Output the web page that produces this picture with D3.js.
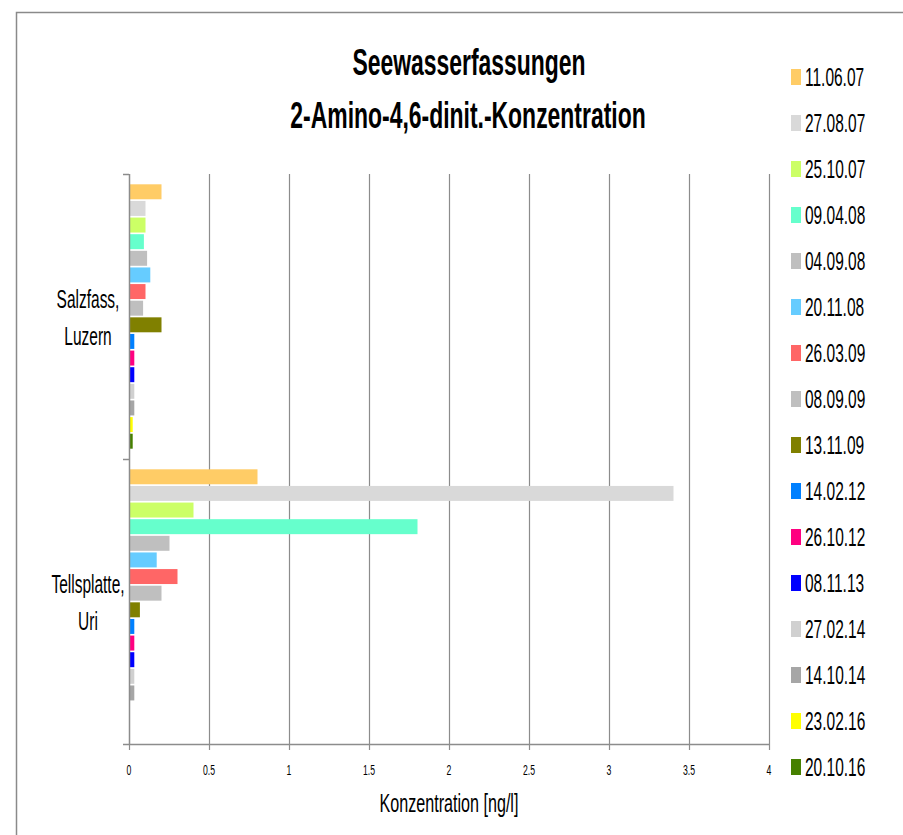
<!DOCTYPE html>
<html>
<head>
<meta charset="utf-8">
<script src="https://cdn.jsdelivr.net/npm/d3@7"></script>
<style>
  body { margin: 0; background: #fff; }
  text { font-family: "Liberation Sans", Arial, sans-serif; fill: #000; }
</style>
</head>
<body>
<div id="chart"></div>
<script>
// chart values
var categories = ["Salzfass,|Luzern", "Tellsplatte,|Uri"];
var seriesNames = ["11.06.07", "27.08.07", "25.10.07", "09.04.08", "04.09.08", "20.11.08",
    "26.03.09", "08.09.09", "13.11.09", "14.02.12", "26.10.12", "08.11.13",
    "27.02.14", "14.10.14", "23.02.16", "20.10.16"];
var seriesColors = ["#ffcc66", "#d9d9d9", "#ccff66", "#66ffcc", "#bfbfbf", "#66ccff",
    "#ff6666", "#bfbfbf", "#808000", "#0080ff", "#ff0080", "#0000ff",
    "#d0d0d0", "#a6a6a6", "#ffff00", "#468000"];
var salzfassValues = [0.20, 0.10, 0.10, 0.09, 0.11, 0.13, 0.10, 0.085, 0.20, 0.03, 0.03, 0.03, 0.03, 0.03, 0.02, 0.02];
var tellsplatteValues = [0.80, 3.40, 0.40, 1.80, 0.25, 0.17, 0.30, 0.20, 0.065, 0.03, 0.03, 0.03, 0.03, 0.03, null, null];
var xTicks = [0, 0.5, 1, 1.5, 2, 2.5, 3, 3.5, 4];

var width = 903, height = 835;
var plot = {left: 129, right: 769, top: 174, bottom: 744};
var squeeze = 0.62; // the picture is narrow, text is squeezed sideways

var svg = d3.select("#chart")
    .append("svg")
    .attr("width", width)
    .attr("height", height);

// outer frame
svg.append("path")
    .attr("d", "M16.5," + height + " V12.5 H" + width)
    .style("fill", "none")
    .style("stroke", "#8a8a8a")
    .style("stroke-width", 1.5);

function label(x, y, str, size, anchor, bold, sx) {
    svg.append("g")
        .attr("transform", "translate(" + x + "," + y + ")")
        .append("text")
        .attr("transform", "scale(" + (sx || squeeze) + ",1)")
        .attr("text-anchor", anchor)
        .style("font-size", size + "px")
        .style("font-weight", bold ? "bold" : "normal")
        .text(str);
}

// title
label(469, 75, "Seewasserfassungen", 37, "middle", true);
label(468, 128, "2-Amino-4,6-dinit.-Konzentration", 37, "middle", true);

var x = d3.scaleLinear()
    .domain([0, 4])
    .range([plot.left, plot.right]);

var y0 = d3.scaleBand()
    .domain(categories)
    .range([plot.top, plot.bottom]);

var y1 = d3.scaleBand()
    .domain(seriesNames)
    .range([0, y0.bandwidth()])
    .paddingInner(0.1)
    .paddingOuter(0.62);

// gridlines
svg.append("g")
    .selectAll("line")
    .data(xTicks.slice(1))
    .enter()
    .append("line")
    .attr("x1", function(d) { return Math.round(x(d)) + 0.5; })
    .attr("x2", function(d) { return Math.round(x(d)) + 0.5; })
    .attr("y1", plot.top)
    .attr("y2", plot.bottom)
    .style("stroke", "#8c8c8c")
    .style("stroke-width", 1.2);

// bars
var table = categories.map(function(c, i) {
    var vals = i === 0 ? salzfassValues : tellsplatteValues;
    return seriesNames.map(function(s, j) {
        return {cat: c, name: s, value: vals[j], color: seriesColors[j]};
    });
});

svg.append("g")
    .selectAll("g")
    .data(table)
    .enter()
    .append("g")
    .attr("transform", function(d) { return "translate(0," + y0(d[0].cat) + ")"; })
    .selectAll("rect")
    .data(function(d) { return d.filter(function(e) { return e.value != null; }); })
    .enter()
    .append("rect")
    .attr("x", x(0) + 0.5)
    .attr("y", function(d) { return y1(d.name); })
    .attr("width", function(d) { return x(d.value) - x(0); })
    .attr("height", y1.bandwidth())
    .style("fill", function(d) { return d.color; });

// x axis
var xAxis = svg.append("g")
    .attr("transform", "translate(0," + plot.bottom + ")")
    .call(d3.axisBottom(x).tickValues(xTicks).tickSize(6).tickFormat(""));
xAxis.select(".domain").remove();
xAxis.selectAll("line").style("stroke", "#8c8c8c").style("stroke-width", 1.2);
svg.append("line")
    .attr("x1", plot.left - 6).attr("x2", plot.right + 1)
    .attr("y1", plot.bottom + 0.5).attr("y2", plot.bottom + 0.5)
    .style("stroke", "#8c8c8c").style("stroke-width", 1.5);

xTicks.forEach(function(t) {
    label(x(t), 775, String(t), 14, "middle", false);
});
label(449, 812, "Konzentration [ng/l]", 26, "middle", false);

// y axis
svg.append("line")
    .attr("x1", plot.left + 0.5).attr("x2", plot.left + 0.5)
    .attr("y1", plot.top).attr("y2", plot.bottom)
    .style("stroke", "#8c8c8c").style("stroke-width", 1.5);
[plot.top, plot.top + y0.bandwidth()].forEach(function(t) {
    svg.append("line")
        .attr("x1", plot.left - 6).attr("x2", plot.left)
        .attr("y1", Math.round(t) + 0.5).attr("y2", Math.round(t) + 0.5)
        .style("stroke", "#8c8c8c").style("stroke-width", 1.5);
});

categories.forEach(function(c) {
    var lines = c.split("|");
    var cy = y0(c) + y0.bandwidth() / 2;
    label(88, cy - 9, lines[0], 25, "middle", false);
    label(88, cy + 28, lines[1], 25, "middle", false);
});

// legend
var legend = svg.append("g")
    .selectAll("g")
    .data(seriesNames)
    .enter()
    .append("g")
    .attr("transform", function(d, i) { return "translate(791," + (77 + i * 46) + ")"; });

legend.append("rect")
    .attr("x", 0)
    .attr("y", -8)
    .attr("width", 10)
    .attr("height", 16)
    .style("fill", function(d, i) { return seriesColors[i]; });

legend.append("text")
    .attr("transform", "translate(14,9) scale(" + squeeze + ",1)")
    .style("font-size", "25px")
    .text(function(d) { return d; });
</script>
</body>
</html>
